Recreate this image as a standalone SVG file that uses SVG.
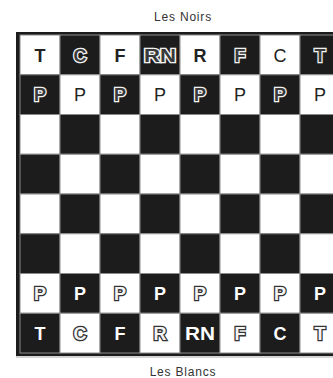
<svg xmlns="http://www.w3.org/2000/svg" width="333" height="378" viewBox="0 0 333 378">
<style>
.lbl{font-family:"Liberation Sans",Arial,sans-serif;font-size:12px;fill:#333;text-anchor:middle;letter-spacing:0.8px}
.w{fill:#fff;stroke:#8a8a8a;stroke-width:1}
.b{fill:#1c1c1c;stroke:#8a8a8a;stroke-width:1}
.pc{font-family:"Liberation Sans",Arial,sans-serif;font-size:18px;text-anchor:middle}
.dk{fill:#222;font-weight:bold}
.dn{fill:#222}
.wt{fill:#fff;font-weight:bold}
.ob{fill:#3a3a3a;stroke:#f2f2f2;stroke-width:2.6;paint-order:stroke;font-weight:bold}
.ow{fill:#f4f4f4;stroke:#333;stroke-width:2.6;paint-order:stroke;font-weight:bold}
</style>
<rect width="333" height="378" fill="#fff"/>
<text class="lbl" x="183" y="21">Les Noirs</text>
<g id="board">
<rect x="16" y="32" width="330" height="324" fill="#1c1c1c"/>
<line x1="16" y1="357" x2="333" y2="357" stroke="#aaa" stroke-width="1"/>
<g id="squares">
<rect class="w" x="20" y="35" width="40" height="39.75"/><rect class="b" x="60" y="35" width="40" height="39.75"/><rect class="w" x="100" y="35" width="40" height="39.75"/><rect class="b" x="140" y="35" width="40" height="39.75"/><rect class="w" x="180" y="35" width="40" height="39.75"/><rect class="b" x="220" y="35" width="40" height="39.75"/><rect class="w" x="260" y="35" width="40" height="39.75"/><rect class="b" x="300" y="35" width="40" height="39.75"/>
<rect class="b" x="20" y="74.75" width="40" height="39.75"/><rect class="w" x="60" y="74.75" width="40" height="39.75"/><rect class="b" x="100" y="74.75" width="40" height="39.75"/><rect class="w" x="140" y="74.75" width="40" height="39.75"/><rect class="b" x="180" y="74.75" width="40" height="39.75"/><rect class="w" x="220" y="74.75" width="40" height="39.75"/><rect class="b" x="260" y="74.75" width="40" height="39.75"/><rect class="w" x="300" y="74.75" width="40" height="39.75"/>
<rect class="w" x="20" y="114.5" width="40" height="39.75"/><rect class="b" x="60" y="114.5" width="40" height="39.75"/><rect class="w" x="100" y="114.5" width="40" height="39.75"/><rect class="b" x="140" y="114.5" width="40" height="39.75"/><rect class="w" x="180" y="114.5" width="40" height="39.75"/><rect class="b" x="220" y="114.5" width="40" height="39.75"/><rect class="w" x="260" y="114.5" width="40" height="39.75"/><rect class="b" x="300" y="114.5" width="40" height="39.75"/>
<rect class="b" x="20" y="154.25" width="40" height="39.75"/><rect class="w" x="60" y="154.25" width="40" height="39.75"/><rect class="b" x="100" y="154.25" width="40" height="39.75"/><rect class="w" x="140" y="154.25" width="40" height="39.75"/><rect class="b" x="180" y="154.25" width="40" height="39.75"/><rect class="w" x="220" y="154.25" width="40" height="39.75"/><rect class="b" x="260" y="154.25" width="40" height="39.75"/><rect class="w" x="300" y="154.25" width="40" height="39.75"/>
<rect class="w" x="20" y="194" width="40" height="39.75"/><rect class="b" x="60" y="194" width="40" height="39.75"/><rect class="w" x="100" y="194" width="40" height="39.75"/><rect class="b" x="140" y="194" width="40" height="39.75"/><rect class="w" x="180" y="194" width="40" height="39.75"/><rect class="b" x="220" y="194" width="40" height="39.75"/><rect class="w" x="260" y="194" width="40" height="39.75"/><rect class="b" x="300" y="194" width="40" height="39.75"/>
<rect class="b" x="20" y="233.75" width="40" height="39.75"/><rect class="w" x="60" y="233.75" width="40" height="39.75"/><rect class="b" x="100" y="233.75" width="40" height="39.75"/><rect class="w" x="140" y="233.75" width="40" height="39.75"/><rect class="b" x="180" y="233.75" width="40" height="39.75"/><rect class="w" x="220" y="233.75" width="40" height="39.75"/><rect class="b" x="260" y="233.75" width="40" height="39.75"/><rect class="w" x="300" y="233.75" width="40" height="39.75"/>
<rect class="w" x="20" y="273.5" width="40" height="39.75"/><rect class="b" x="60" y="273.5" width="40" height="39.75"/><rect class="w" x="100" y="273.5" width="40" height="39.75"/><rect class="b" x="140" y="273.5" width="40" height="39.75"/><rect class="w" x="180" y="273.5" width="40" height="39.75"/><rect class="b" x="220" y="273.5" width="40" height="39.75"/><rect class="w" x="260" y="273.5" width="40" height="39.75"/><rect class="b" x="300" y="273.5" width="40" height="39.75"/>
<rect class="b" x="20" y="313.25" width="40" height="39.75"/><rect class="w" x="60" y="313.25" width="40" height="39.75"/><rect class="b" x="100" y="313.25" width="40" height="39.75"/><rect class="w" x="140" y="313.25" width="40" height="39.75"/><rect class="b" x="180" y="313.25" width="40" height="39.75"/><rect class="w" x="220" y="313.25" width="40" height="39.75"/><rect class="b" x="260" y="313.25" width="40" height="39.75"/><rect class="w" x="300" y="313.25" width="40" height="39.75"/>
</g>
</g>
<g id="noirs">
<text class="pc dk" x="40" y="61.5">T</text>
<text class="pc ob" x="80" y="61.5">C</text>
<text class="pc dk" x="120" y="61.5">F</text>
<text class="pc ob" x="160" y="61.5" textLength="32" lengthAdjust="spacingAndGlyphs">RN</text>
<text class="pc dk" x="200" y="61.5">R</text>
<text class="pc ob" x="240" y="61.5">F</text>
<text class="pc dn" x="280" y="61.5">C</text>
<text class="pc ob" x="320" y="61.5">T</text>
<text class="pc ob" x="40" y="101">P</text>
<text class="pc dn" x="80" y="101">P</text>
<text class="pc ob" x="120" y="101">P</text>
<text class="pc dn" x="160" y="101">P</text>
<text class="pc ob" x="200" y="101">P</text>
<text class="pc dn" x="240" y="101">P</text>
<text class="pc ob" x="280" y="101">P</text>
<text class="pc dn" x="320" y="101">P</text>
</g>
<g id="blancs">
<text class="pc ow" x="40" y="300">P</text>
<text class="pc wt" x="80" y="300">P</text>
<text class="pc ow" x="120" y="300">P</text>
<text class="pc wt" x="160" y="300">P</text>
<text class="pc ow" x="200" y="300">P</text>
<text class="pc wt" x="240" y="300">P</text>
<text class="pc ow" x="280" y="300">P</text>
<text class="pc wt" x="320" y="300">P</text>
<text class="pc wt" x="40" y="339.6">T</text>
<text class="pc ow" x="80" y="339.6">C</text>
<text class="pc wt" x="120" y="339.6">F</text>
<text class="pc ow" x="160" y="339.6">R</text>
<text class="pc wt" x="200" y="339.6" textLength="30" lengthAdjust="spacingAndGlyphs">RN</text>
<text class="pc ow" x="240" y="339.6">F</text>
<text class="pc wt" x="280" y="339.6">C</text>
<text class="pc ow" x="320" y="339.6">T</text>
</g>
<text class="lbl" x="183" y="376">Les Blancs</text>
</svg>
